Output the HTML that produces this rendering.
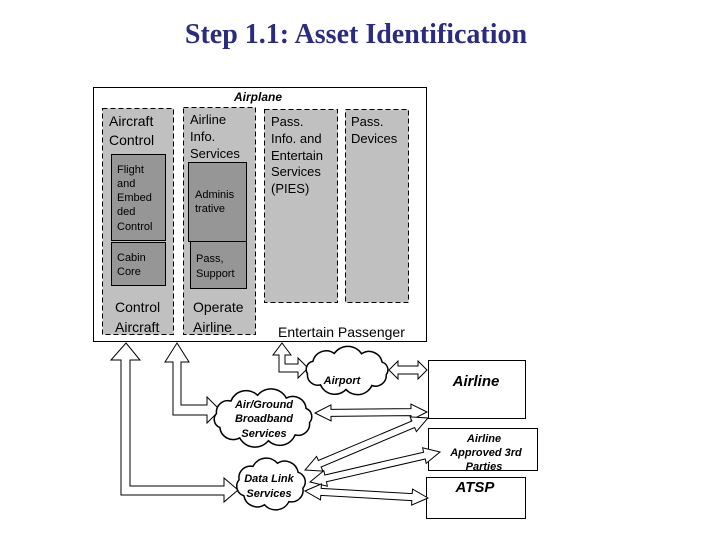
<!DOCTYPE html>
<html><head><meta charset="utf-8"><style>
body{margin:0;background:#fff;width:720px;height:540px;overflow:hidden}
svg{display:block}
text{font-family:"Liberation Sans",Arial,sans-serif}
</style></head><body>
<svg id="s" width="720" height="540" viewBox="0 0 720 540" xmlns="http://www.w3.org/2000/svg">
<text x="356" y="43" text-anchor="middle" font-weight="bold" font-size="28" fill="#2b2b7f" style="font-family:'Liberation Serif',serif">Step 1.1: Asset Identification</text>
<rect x="93.5" y="87.5" width="333" height="254" fill="#fff" stroke="#000"/>
<text x="258" y="101" text-anchor="middle" font-size="12" font-weight="bold" font-style="italic">Airplane</text>
<g fill="#c0c0c0" stroke="#000" stroke-dasharray="5,3">
<rect x="102.5" y="108.5" width="71" height="226"/>
<rect x="183.5" y="107.5" width="72" height="227"/>
<rect x="264.5" y="109.5" width="73" height="193"/>
<rect x="345.5" y="109.5" width="63" height="193"/>
</g>
<g fill="#969696" stroke="#000">
<rect x="111.5" y="154.5" width="54" height="86"/>
<rect x="111.5" y="242.5" width="54" height="43"/>
<rect x="188.5" y="162.5" width="58" height="79"/>
<rect x="190.5" y="241.5" width="56" height="47"/>
</g>
<g font-size="14" fill="#000">
<text x="109" y="126">Aircraft</text><text x="109" y="145">Control</text>
<text x="190" y="124" font-size="13">Airline</text><text x="190" y="141" font-size="13">Info.</text><text x="190" y="158" font-size="13">Services</text>
<text x="271" y="126" font-size="13">Pass.</text><text x="271" y="143" font-size="13">Info. and</text><text x="271" y="160" font-size="13">Entertain</text><text x="271" y="176" font-size="13">Services</text><text x="271" y="193" font-size="13">(PIES)</text>
<text x="351" y="126" font-size="13">Pass.</text><text x="351" y="143" font-size="13">Devices</text>
<text x="115" y="312">Control</text><text x="115" y="332">Aircraft</text>
<text x="193" y="312">Operate</text><text x="193" y="332">Airline</text>
<text x="278" y="337">Entertain Passenger</text>
</g>
<g font-size="11">
<text x="117" y="173">Flight</text><text x="117" y="187">and</text><text x="117" y="201">Embed</text><text x="117" y="215">ded</text><text x="117" y="230">Control</text>
<text x="117" y="261">Cabin</text><text x="117" y="275">Core</text>
<text x="195" y="198">Adminis</text><text x="195" y="212">trative</text>
<text x="196" y="262">Pass,</text><text x="196" y="277">Support</text>
</g>
<g fill="#fff" stroke="#000">
<rect x="428.5" y="360.5" width="97" height="58"/>
<rect x="428.5" y="428.5" width="109" height="42"/>
<rect x="426.5" y="477.5" width="99" height="41"/>
</g>
<g id="arr" fill="#fff" stroke="#000" stroke-width="1">
<polygon points="126,343 140,360 130,360 130,486 224,486 224,478 238,490 224,502 224,495 121,495 121,360 111,360"/>
<polygon points="177,343 189,362 181,362 181,405 207,405 207,397 220,410 207,423 207,415 173,415 173,362 165,362"/>
<polygon points="282,343 291,355 285,355 285,364 298,364 298,358 308,368 298,378 298,372 279,372 279,355 273,355"/>
<polygon points="389,370 398,361 398,366 418,366 418,361 427,370 418,379 418,374 398,374 398,379"/>
</g>
<g id="clouds" fill="#fff" stroke="#000" stroke-width="1.5"></g>
<g font-size="11" font-weight="bold" font-style="italic" text-anchor="middle">
<text x="342" y="384">Airport</text>
<text x="264" y="408">Air/Ground</text><text x="264" y="422">Broadband</text><text x="264" y="437">Services</text>
<text x="269" y="482">Data Link</text><text x="269" y="497">Services</text>
<text x="476" y="386" font-size="15">Airline</text>
<text x="484" y="442">Airline</text><text x="486" y="456">Approved 3rd</text><text x="484" y="470">Parties</text>
<text x="475" y="492" font-size="15">ATSP</text>
</g>
</svg>
<script>
var NS="http://www.w3.org/2000/svg";
function dbl(x1,y1,x2,y2,w,hw,hl){var dx=x2-x1,dy=y2-y1,L=Math.hypot(dx,dy),ux=dx/L,uy=dy/L,px=-uy,py=ux;
function p(a,b){return (x1+ux*a+px*b).toFixed(1)+','+(y1+uy*a+py*b).toFixed(1)}
var pts=[p(0,0),p(hl,hw),p(hl,w/2),p(L-hl,w/2),p(L-hl,hw),p(L,0),p(L-hl,-hw),p(L-hl,-w/2),p(hl,-w/2),p(hl,-hw)];
var e=document.createElementNS(NS,'polygon');e.setAttribute('points',pts.join(' '));document.getElementById('arr').appendChild(e);}
dbl(315,413,427,412,7,8,16);
dbl(305,470,428,418,7,8,16);
dbl(310,482,440,452,7,8,16);
dbl(305,491,428,498,7,8,16);
function cloud(cx,cy,rx,ry,n){var pts=[];
for(var i=0;i<n;i++){var a=i/n*2*Math.PI+0.2;pts.push([cx+rx*0.93*Math.cos(a),cy+ry*0.88*Math.sin(a)]);}
var d='M'+pts[0][0].toFixed(1)+','+pts[0][1].toFixed(1);
for(var i=1;i<=n;i++){var q=pts[i%n],pr=pts[i-1],c=Math.hypot(q[0]-pr[0],q[1]-pr[1]);
d+=' A'+(c*0.6).toFixed(1)+','+(c*0.6).toFixed(1)+' 0 0 1 '+q[0].toFixed(1)+','+q[1].toFixed(1);}
var e=document.createElementNS(NS,'path');e.setAttribute('d',d+'Z');document.getElementById('clouds').appendChild(e);}
cloud(347,371,43,21,9);
cloud(263,418,51,26,10);
cloud(271,484,35,24,8);
</script>
</body></html>
